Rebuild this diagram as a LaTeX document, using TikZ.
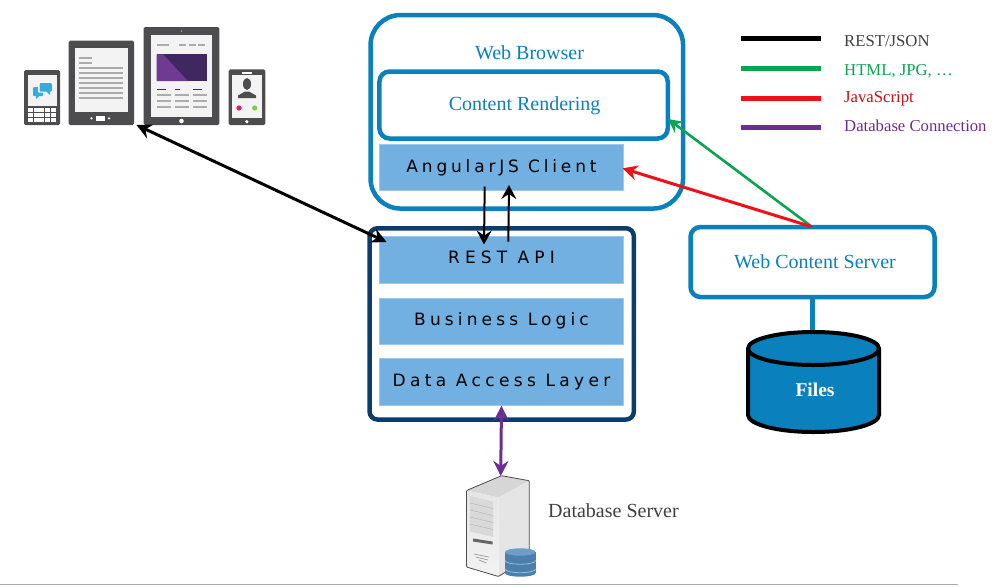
\documentclass[tikz,border=0pt]{standalone}
\usepackage{fontspec}
\setmainfont{Liberation Serif}
\newfontfamily\layerfont{DejaVu Sans}
\usetikzlibrary{arrows.meta,shapes.geometric}
\definecolor{bluebrd}{HTML}{0A80BC}
\definecolor{navy}{HTML}{0B3C6B}
\definecolor{layerblue}{HTML}{71B0E0}
\definecolor{devgray}{HTML}{4D4D4F}
\definecolor{scrgray}{HTML}{F3F3F3}
\definecolor{linegray}{HTML}{ABABAB}
\definecolor{dkpurple}{HTML}{41275F}
\definecolor{ltpurple}{HTML}{6F3A91}
\definecolor{legpurple}{HTML}{6B2F93}
\definecolor{leggreen}{HTML}{0BA550}
\definecolor{legred}{HTML}{F0101A}
\definecolor{chat}{HTML}{35ABE0}
\definecolor{dotpink}{HTML}{E5186A}
\definecolor{dotgreen}{HTML}{8CC63F}
\definecolor{dbside}{HTML}{4A7FAE}
\definecolor{dbtop}{HTML}{6E9DC8}
\definecolor{dbsep}{HTML}{9CC0DE}
\tikzset{
  x=1pt,y=-1pt,
  layer/.style={fill=layerblue,draw=layerblue!70!white,line width=0.6pt,minimum width=244.4pt,minimum height=46.4pt,inner sep=0pt,outer sep=0pt,font=\layerfont\fontsize{17}{19}\selectfont,text=black},
  whitebox/.style={draw=bluebrd,line width=4.5pt,fill=white,rounded corners=#1,inner sep=0pt,outer sep=0pt,font=\fontsize{20}{22}\selectfont,text=bluebrd},
  whitebox/.default=10pt,
  leg/.style={line width=4.8pt},
  legtext/.style={anchor=base west,inner sep=0pt,font=\fontsize{16.7}{19}\selectfont},
  arr/.style={line width=3pt,-{Stealth[length=15pt,width=15pt,inset=5pt]}},
  biarr/.style={line width=3pt,{Stealth[length=15pt,width=15pt,inset=5pt]}-{Stealth[length=15pt,width=15pt,inset=5pt]}},
  thinarr/.style={line width=2pt,-{Stealth[length=14pt,width=15pt,inset=5pt]}},
  dev/.style={fill=devgray,draw=none,rounded corners=1.5pt},
  scr/.style={fill=scrgray,draw=none},
  ln/.style={line width=1.4pt,draw=linegray},
}
\begin{document}
\begin{tikzpicture}
\useasboundingbox (0,0) rectangle (999,587);
\fill[white] (0,0) rectangle (999,587);
% bottom rule
\draw[linegray,line width=0.8pt] (0,584.5) -- (958,584.5);

% --- devices
% phone 1
\path[dev] (24,70) rectangle (60,125);
\path[scr] (27.5,74.5) rectangle (56.5,105.5);
\foreach \i in {0,1,2,3,4} \foreach \j in {0,1,2}
  \fill[white] (27.8+\i*5.8,107.5+\j*5) rectangle ++(5,4.2);
\fill[chat,rounded corners=1pt] (33,87) rectangle (43,96);
\fill[chat] (36,95) -- (40,95) -- (36,99) -- cycle;
\fill[white,rounded corners=1pt] (38,82) rectangle (53,92.5);
\fill[chat,rounded corners=1pt] (39.5,83) rectangle (52,91.5);
\fill[chat] (46,91) -- (50,91) -- (50,95) -- cycle;

% e-reader
\path[dev] (68.7,40.7) rectangle (134,125);
\path[scr] (75,47.5) rectangle (127.7,112);
\foreach \y in {58,63} \draw[ln] (79,\y) -- (92,\y);
\foreach \y in {68,73,...,98} \draw[ln] (79,\y) -- (123,\y);
\fill[white] (95.5,115.5) rectangle (105,121);
\fill[white] (91.5,118.3) circle (1.3);
\fill[white] (109,118.3) circle (1.3);

% tablet
\path[dev] (143.7,27) rectangle (219.3,125);
\path[scr] (151,35) rectangle (212.3,116.7);
\fill[white!85!black] (181.5,31) circle (0.7);
\fill[white] (181.5,121) circle (2.3);
\draw[ln] (157,45) -- (169,45);
\foreach \x in {179,189,198} \draw[ln] (\x,45) -- (\x+7,45);
\fill[dkpurple] (156.7,54.3) rectangle (206.7,81);
\fill[ltpurple] (156.7,54.3) -- (163,54.3) -- (188,81) -- (156.7,81) -- cycle;
\foreach \x/\w in {157/9,175/5,193/9} \draw[dkpurple,line width=1.3pt] (\x,89.5) -- ++(\w,0);
\foreach \y in {95,101,107} \foreach \x in {157,175,193} \draw[ln,line width=1.5pt] (\x,\y) -- ++(13.5,0);

% phone 2
\path[dev] (228.7,69.3) rectangle (265.3,125);
\path[scr] (232.3,75) rectangle (261.7,118.3);
\fill[white] (242,72) rectangle (252,73.5);
\fill[white] (246.8,121.7) circle (1.8);
\fill[devgray] (247,84) ellipse (4 and 6);
\fill[devgray] (238,98) -- (238,95.5) -- (245,91.5) -- (249,91.5) -- (256,95.5) -- (256,98) -- cycle;
\fill[dotpink] (239,108) circle (2.6);
\fill[dotgreen] (254.7,108) circle (2.6);
\coordinate (devices) at (136.5,125);

% --- web browser
\node[whitebox=30pt,minimum width=312.5pt,minimum height=193.5pt] (browser) at (526.8,111.8) {};
\node[inner sep=0pt,font=\fontsize{20}{22}\selectfont,text=bluebrd] (browserlabel) at (529.5,52.5) {Web Browser};
\node[whitebox=10pt,minimum width=288.3pt,minimum height=67pt] (render) at (523.6,105) {\hspace*{2pt}\raisebox{-5.7pt}[0pt][0pt]{Content Rendering}};
\node[layer] (client) at (501.5,167.5) {\addfontfeature{LetterSpace=22.5}\raisebox{-4.8pt}[0pt][0pt]{AngularJS Client}};

% --- API container
\node[draw=navy,line width=4.5pt,rounded corners=8pt,fill=white,minimum width=264.3pt,minimum height=191.3pt,inner sep=0pt,outer sep=0pt] (api) at (501.7,323.9) {};
\node[layer,minimum height=47.4pt] (rest) at (501.5,260) {\addfontfeature{LetterSpace=30}\raisebox{-3.8pt}[0pt][0pt]{REST API}};
\node[layer] (logic) at (501.5,321.5) {\addfontfeature{LetterSpace=24.4}\raisebox{-3.8pt}[0pt][0pt]{Business Logic}};
\node[layer,minimum height=47.4pt] (dal) at (501.5,382) {\addfontfeature{LetterSpace=25.5}\raisebox{-4.5pt}[0pt][0pt]{Data Access Layer}};

% --- web content server
\node[whitebox=10pt,minimum width=244pt,minimum height=70pt] (wcs) at (812.5,262) {\hspace*{5pt}\raisebox{-6.3pt}[0pt][0pt]{Web Content Server}};

% --- files cylinder
\coordinate (filestop) at (812.5,332);
\draw[bluebrd,line width=4.5pt] (wcs.south) -- (filestop);
\draw[fill=bluebrd,draw=black,line width=4pt] (748,348.5) -- (748,415) arc[start angle=180,end angle=0,x radius=65.5,y radius=17] -- (879,348.5) arc[start angle=0,end angle=-180,x radius=65.5,y radius=16.5] -- cycle;
\draw[black,line width=4pt] (748,348.5) arc[start angle=180,end angle=0,x radius=65.5,y radius=16.5];
\node[inner sep=0pt,anchor=base,font=\bfseries\fontsize{19.5}{22}\selectfont,text=white] (files) at (815,396.7) {Files};

% --- database server
\fill[white!84!black] (466.5,490.5) -- (501.5,475.7) -- (529.3,480.7) -- (498.5,497.5) -- cycle;
\fill[white!90!black] (498.5,497.5) -- (529.3,480.7) -- (529.3,557) -- (498.5,576.5) -- cycle;
\shade[top color=white!90!black,bottom color=white!95!black] (466.5,490.5) -- (498.5,497.5) -- (498.5,576.5) -- (466.5,567) -- cycle;
\draw[black!70,line width=0.8pt,line join=round,rounded corners=1pt] (466.5,490.5) -- (501.5,475.7) -- (529.3,480.7) -- (529.3,557) -- (498.5,576.5) -- (466.5,567) -- cycle;
\fill[white!85!black] (470,496) -- (493,501.5) -- (493,537) -- (470,531.5) -- cycle;
\foreach \d in {7,14,21,28} \draw[white!72!black,line width=0.5pt] (470,496+\d) -- (493,501.5+\d);
\fill[black!60] (473,538.5) -- (492.5,541.5) -- (492.5,544.5) -- (473,541.5) -- cycle;
\foreach \d/\e in {0/0,3/2,6/5} \draw[white!60!black,line width=0.7pt] (474+\e,554+\d) -- (489-\e*0.5,557+\d);
% small database
\fill[dbside] (505,552) rectangle (535.7,573);
\fill[dbside] (520.3,573) ellipse (15.3 and 3.7);
\foreach \yy in {560.5,569} \draw[dbsep,line width=0.8pt] (505,\yy) arc[start angle=180,end angle=0,x radius=15.35,y radius=3.7];
\fill[dbtop] (520.3,552) ellipse (15.3 and 3.7);
\coordinate (servertop) at (500.7,476);
\node[inner sep=0pt,anchor=base west,font=\fontsize{20}{22}\selectfont,text=black!75] (dblabel) at (548,517.5) {Database Server};

% --- connectors
\coordinate (restleft) at (386.5,242);
\draw[biarr] (devices) -- (restleft);
\coordinate (clientdown) at (484.7,186.7);
\coordinate (restdown) at (484,244.5);
\coordinate (restup) at (508.3,241.7);
\coordinate (clientup) at (509,185);
\draw[thinarr] (clientdown) -- (restdown);
\draw[thinarr] (restup) -- (clientup);
\coordinate (clienttip) at (622.5,168.3);
\coordinate (rendergreen) at (668,119);
\coordinate (wcstop) at (811.7,226.7);
\draw[leggreen,line width=2.6pt,-{Stealth[length=14pt,width=14pt,inset=5pt]}] (wcstop) -- (rendergreen);
\draw[arr,legred] (wcstop) -- (clienttip);
\draw[biarr,legpurple] (dal.south) -- (servertop);

% --- legend
\coordinate (l1a) at (740.5,38.3); \coordinate (l1b) at (821,38.3);
\coordinate (l2a) at (740.5,68.3); \coordinate (l2b) at (821,68.3);
\coordinate (l3a) at (740.5,98.3); \coordinate (l3b) at (821,98.3);
\coordinate (l4a) at (740.5,127.3); \coordinate (l4b) at (821,127.3);
\draw[leg,black] (l1a) -- (l1b);
\draw[leg,leggreen] (l2a) -- (l2b);
\draw[leg,legred] (l3a) -- (l3b);
\draw[leg,legpurple] (l4a) -- (l4b);
\node[legtext,text=black!75] (t1) at (844,46.7) {REST/JSON};
\node[legtext,text=leggreen] (t2) at (844,75.7) {HTML, JPG, …};
\node[legtext,text=legred!85!black] (t3) at (844,102.7) {JavaScript};
\node[legtext,text=legpurple] (t4) at (844,131) {Database Connection};
\end{tikzpicture}
\end{document}
